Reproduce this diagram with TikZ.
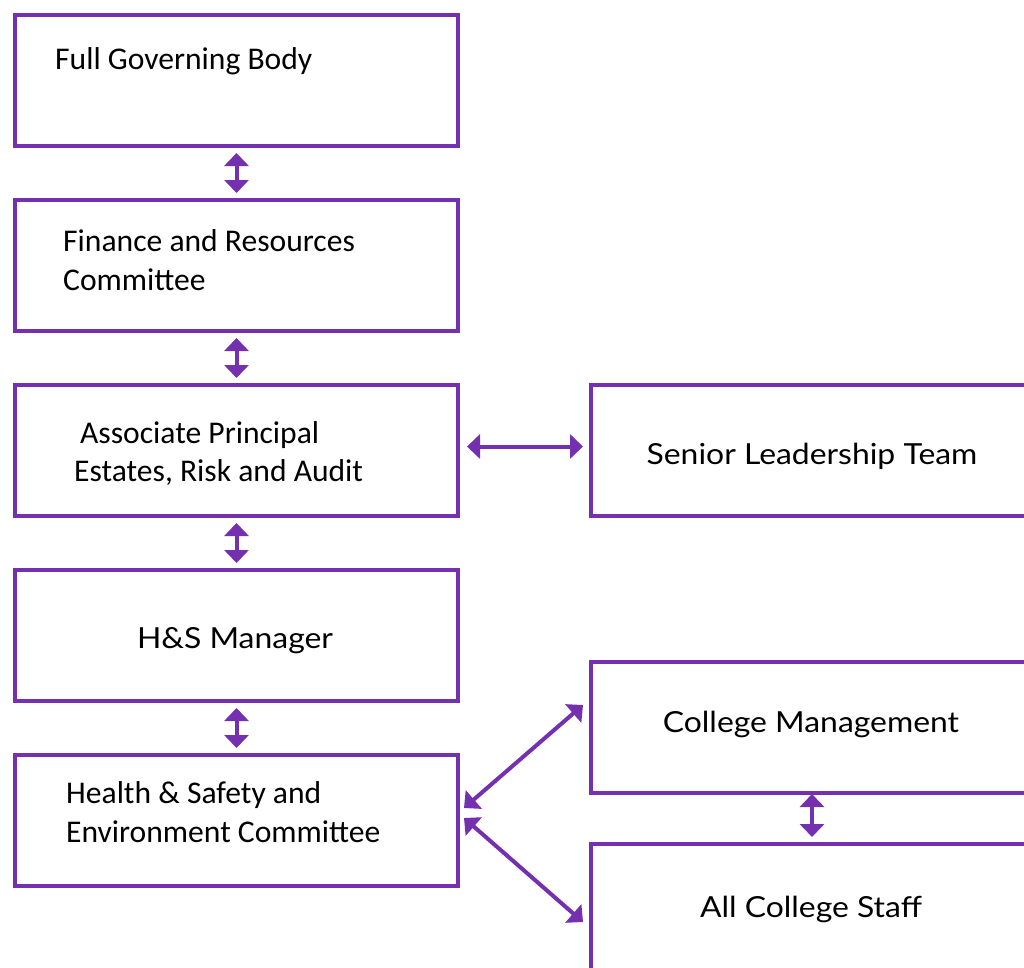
\documentclass[tikz,border=0pt]{standalone}
\usepackage{fontspec}
\setmainfont{Carlito}
\newfontfamily\roundfont[FakeStretch=1.1]{Lato}
\usetikzlibrary{arrows.meta}
\definecolor{orgpurple}{HTML}{7530B0}
\tikzset{
  box/.style={draw=orgpurple, line width=4pt, fill=white, rectangle,
    inner sep=0pt, anchor=north west},
  leftbox/.style={box, minimum width=443pt, minimum height=131pt},
  rightbox/.style={box, minimum width=460pt, minimum height=131pt},
  lefttext/.style={anchor=base west, inner sep=0pt, font=\fontsize{31.6}{37}\selectfont},
  righttext/.style={anchor=base, inner sep=0pt, font=\roundfont\fontsize{29}{35}\selectfont},
  link/.style={draw=orgpurple, line width=4pt,
    {Triangle[width=24pt,length=13pt]}-{Triangle[width=24pt,length=13pt]}},
}
\begin{document}
\begin{tikzpicture}[x=1pt, y=-1pt]
\useasboundingbox (0,0) rectangle (1024,967);
\fill[white] (0,0) rectangle (1024,967);
\begin{scope}
\clip (0,0) rectangle (1024,967);
% left column of committees and roles
\node[leftbox] (fgb) at (13,13) {};
\node[leftbox] (frc) at (13,198) {};
\node[leftbox] (apr) at (13,383) {};
\node[leftbox] (hsm) at (13,568) {};
\node[leftbox] (hse) at (13,753) {};
% right column
\node[rightbox] (slt) at (589,383) {};
\node[rightbox] (cm) at (589,660) {};
\node[rightbox, minimum height=160pt] (acs) at (589,842) {};

% labels
\node[lefttext] (t1) at (55,69) {Full Governing Body};
\node[lefttext] (t2a) at (63,251) {Finance and Resources};
\node[lefttext] (t2b) at (63,290) {Committee};
\node[lefttext] (t3a) at (80,443) {Associate Principal};
\node[lefttext] (t3b) at (74,481) {Estates, Risk and Audit};
\node[righttext] (t4) at (235,648) {H\&S Manager};
\node[lefttext] (t5a) at (66,803) {Health \& Safety and};
\node[lefttext] (t5b) at (66,842) {Environment Committee};
\node[righttext] (t6) at (812,464) {Senior Leadership Team};
\node[righttext] (t7) at (811,732) {College Management};
\node[righttext] (t8) at (811,917) {All College Staff};

% connectors
\draw[link, shorten <=5pt, shorten >=5pt] (fgb.south) -- (frc.north);
\draw[link, shorten <=5pt, shorten >=5pt] (frc.south) -- (apr.north);
\draw[link, shorten <=5pt, shorten >=5pt] (apr.south) -- (hsm.north);
\draw[link, shorten <=5pt, shorten >=5pt] (hsm.south) -- (hse.north);
\draw[link, shorten <=7pt, shorten >=6pt] ([yshift=4pt]apr.east) -- ([yshift=4pt]slt.west);
\coordinate (hsA) at (464,808);
\coordinate (hsB) at (464,818);
\coordinate (cmA) at (583,705);
\coordinate (acsA) at (583,922);
\draw[link] (hsA) -- (cmA);
\draw[link] (hsB) -- (acsA);
\coordinate (cmB) at (812,794);
\coordinate (acsB) at (812,837);
\draw[link] (cmB) -- (acsB);
\end{scope}
\end{tikzpicture}
\end{document}
